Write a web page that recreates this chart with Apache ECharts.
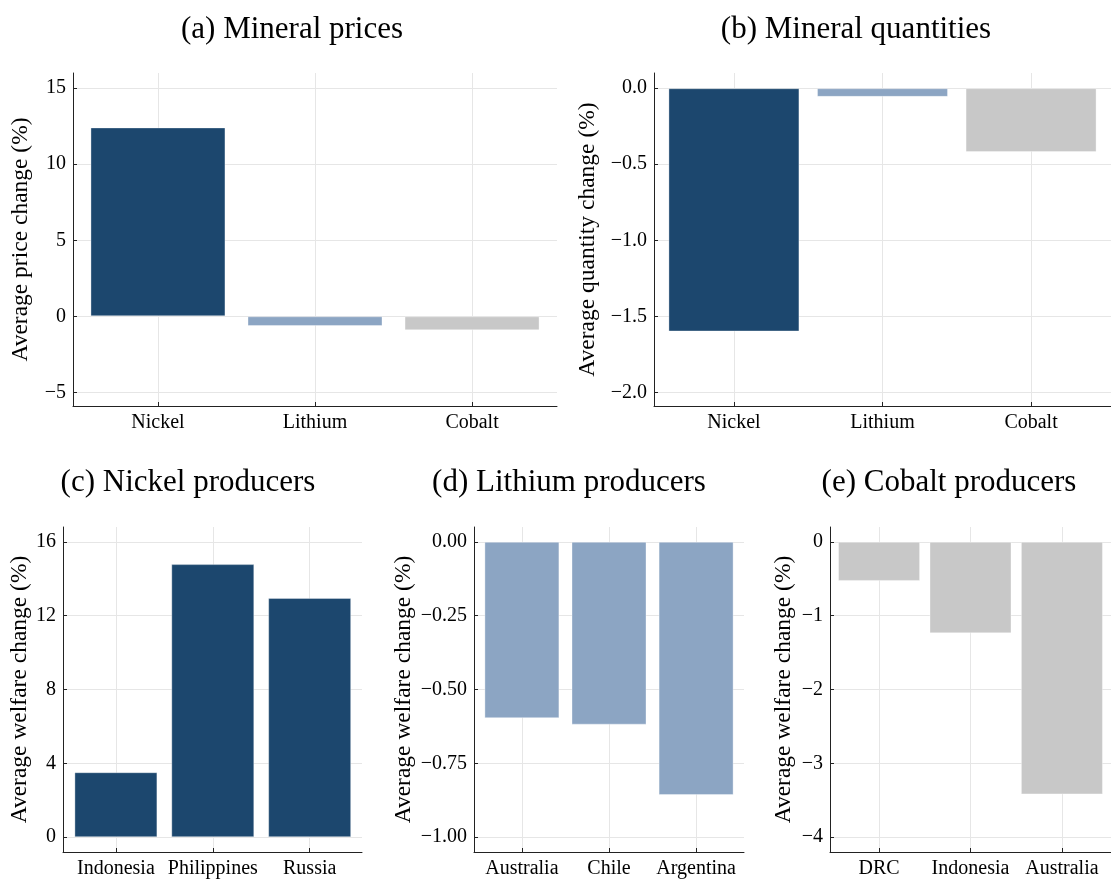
<!DOCTYPE html>
<html><head><meta charset="utf-8">
<script src="https://cdn.jsdelivr.net/npm/echarts@6/dist/echarts.min.js"></script>
<style>html,body{margin:0;padding:0;background:#fff}#c{width:1111px;height:879px}</style>
</head><body><div id="c"></div>
<script>
// ---- data ----
const mineralNames = ['Nickel', 'Lithium', 'Cobalt'];
const priceChange = [12.42, -0.64, -0.92];
const quantityChange = [-1.60, -0.057, -0.42];
const nickelProducers = ['Indonesia', 'Philippines', 'Russia'];
const nickelWelfare = [3.52, 14.79, 12.96];
const lithiumProducers = ['Australia', 'Chile', 'Argentina'];
const lithiumWelfare = [-0.597, -0.619, -0.857];
const cobaltProducers = ['DRC', 'Indonesia', 'Australia'];
const cobaltWelfare = [-0.53, -1.24, -3.42];
const ticksA = [-5, 0, 5, 10, 15];
const ticksB = [-2.0, -1.5, -1.0, -0.5, 0.0];
const ticksC = [0, 4, 8, 12, 16];
const ticksD = [-1.00, -0.75, -0.50, -0.25, 0.00];
const ticksE = [-4, -3, -2, -1, 0];
const titles = ['(a) Mineral prices', '(b) Mineral quantities', '(c) Nickel producers', '(d) Lithium producers', '(e) Cobalt producers'];
const yNames = ['Average price change (%)', 'Average quantity change (%)', 'Average welfare change (%)', 'Average welfare change (%)', 'Average welfare change (%)'];

// ---- styles ----
const NAVY = '#1c476e', LBLUE = '#8ca5c3', GREY = '#c8c8c8';
const FONT = 'Liberation Serif';
const GRIDC = '#e6e6e6';

const panels = [
  {names: mineralNames, vals: priceChange, colors: [NAVY, LBLUE, GREY], ticks: ticksA, dec: 0,
   grid: {left: 73, top: 73, width: 484, height: 333}, xmin: -0.541, xmax: 2.541, ymin: -5.9, ymax: 16, bw: 135, nameGap: 40,
   title: {x: 287, y: 9}},
  {names: mineralNames, vals: quantityChange, colors: [NAVY, LBLUE, GREY], ticks: ticksB, dec: 1,
   grid: {left: 654, top: 73, width: 469, height: 333}, xmin: -0.538, xmax: 2.538, ymin: -2.09, ymax: 0.1, bw: 131, nameGap: 54,
   title: {x: 851, y: 9}},
  {names: nickelProducers, vals: nickelWelfare, colors: [NAVY, NAVY, NAVY], ticks: ticksC, dec: 0,
   grid: {left: 63, top: 527, width: 299, height: 330}, xmin: -0.546, xmax: 2.54, ymin: -0.8, ymax: 16.8, bw: 83, nameGap: 30,
   title: {x: 183, y: 462}},
  {names: lithiumProducers, vals: lithiumWelfare, colors: [LBLUE, LBLUE, LBLUE], ticks: ticksD, dec: 2,
   grid: {left: 474, top: 527, width: 270, height: 330}, xmin: -0.55, xmax: 2.55, ymin: -1.05, ymax: 0.05, bw: 75, nameGap: 58,
   title: {x: 564, y: 462}},
  {names: cobaltProducers, vals: cobaltWelfare, colors: [GREY, GREY, GREY], ticks: ticksE, dec: 0,
   grid: {left: 830, top: 527, width: 292, height: 330}, xmin: -0.537, xmax: 2.537, ymin: -4.2, ymax: 0.2, bw: 82, nameGap: 34,
   title: {x: 944, y: 462}}
];

const fmt = (v, d) => { const s = Math.abs(v).toFixed(d); return (v < -1e-9 ? '\u2212' : '') + s; };

const option = {
  animation: false,
  backgroundColor: '#fff',
  title: [], grid: [], xAxis: [], yAxis: [], series: []
};

panels.forEach((p, i) => {
  option.title.push({text: titles[i], left: p.title.x, top: p.title.y, textAlign: 'center',
    textStyle: {fontFamily: FONT, fontSize: 31, fontWeight: 'normal', color: '#000'}});
  option.grid.push(Object.assign({containLabel: false}, p.grid));
  const names = p.names;
  option.xAxis.push({
    type: 'value', gridIndex: i, min: p.xmin, max: p.xmax,
    axisLine: {show: true, onZero: false, lineStyle: {color: '#222', width: 1}},
    axisTick: {show: true, inside: true, length: 4, customValues: [0, 1, 2], lineStyle: {color: '#222'}},
    axisLabel: {show: true, customValues: [0, 1, 2], formatter: v => names[Math.round(v)], fontFamily: FONT, fontSize: 20, color: '#000', margin: 7},
    splitLine: {show: true, lineStyle: {color: GRIDC, width: 1}}
  });
  const d = p.dec;
  option.yAxis.push({
    type: 'value', gridIndex: i, min: p.ymin, max: p.ymax,
    name: yNames[i], nameLocation: 'middle', nameGap: p.nameGap, nameRotate: 90,
    nameTextStyle: {fontFamily: FONT, fontSize: 23.5, color: '#000'},
    axisLine: {show: true, onZero: false, lineStyle: {color: '#222', width: 1}},
    axisTick: {show: true, inside: true, length: 4, customValues: p.ticks, lineStyle: {color: '#222'}},
    axisLabel: {show: true, customValues: p.ticks, formatter: v => fmt(v, d), fontFamily: FONT, fontSize: 20, color: '#000', margin: 7},
    splitLine: {show: true, lineStyle: {color: GRIDC, width: 1}}
  });
  option.series.push({
    type: 'bar', xAxisIndex: i, yAxisIndex: i, barWidth: p.bw,
    data: p.vals.map((v, k) => ({value: [k, v], itemStyle: {color: p.colors[k]}})),
    itemStyle: {borderColor: 'rgba(255,255,255,0.35)', borderWidth: 1}
  });
});

const chart = echarts.init(document.getElementById('c'), null, {renderer: 'canvas'});
chart.setOption(option);
</script></body></html>
